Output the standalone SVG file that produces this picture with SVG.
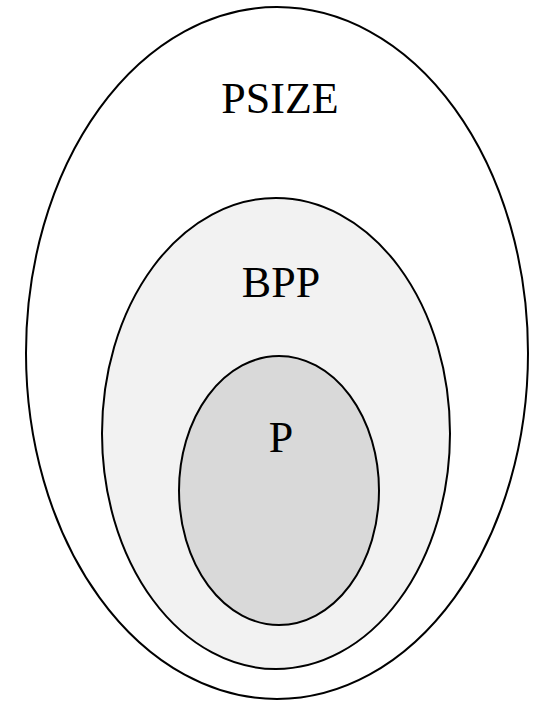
<svg xmlns="http://www.w3.org/2000/svg" width="543" height="701" viewBox="0 0 543 701">
<style>
.set{stroke:#000;stroke-width:2}
.lbl{font-family:"Liberation Serif","DejaVu Serif",serif;font-size:44px;fill:#000;text-anchor:middle}
</style>
<rect width="543" height="701" fill="#fff"/>
<g id="psize">
<ellipse class="set" cx="277" cy="353" rx="251" ry="346" fill="#fff"/>
<text class="lbl" x="280" y="113">PSIZE</text>
</g>
<g id="bpp">
<ellipse class="set" cx="276" cy="433.5" rx="174" ry="235.5" fill="#f2f2f2"/>
<text class="lbl" x="281" y="297">BPP</text>
</g>
<g id="p">
<ellipse class="set" cx="279" cy="490.5" rx="100" ry="134.5" fill="#d9d9d9"/>
<text class="lbl" x="281" y="452">P</text>
</g>
<g id="connectors"/>
</svg>
